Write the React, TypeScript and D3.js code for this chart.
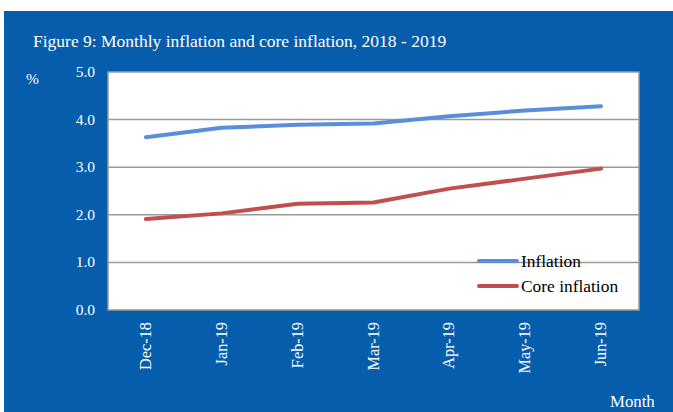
import React, { useRef, useEffect } from 'react';
import * as d3 from 'd3';

const months = ['Dec-18', 'Jan-19', 'Feb-19', 'Mar-19', 'Apr-19', 'May-19', 'Jun-19'];
const inflation = [3.63, 3.83, 3.89, 3.92, 4.07, 4.19, 4.28];
const coreInflation = [1.91, 2.03, 2.23, 2.26, 2.55, 2.76, 2.97];
const yTicks = [0, 1, 2, 3, 4, 5];

const series = [
  { name: 'Inflation', values: inflation, color: '#5A8FD8' },
  { name: 'Core inflation', values: coreInflation, color: '#C0504D' },
];

const W = 673;
const H = 412;
const BG = '#055DAB';
const FONT = '"Liberation Serif", "Times New Roman", serif';

const App: React.FC = () => {
  const svgRef = useRef<SVGSVGElement>(null);

  useEffect(() => {
    if (!svgRef.current) return;
    const svg = d3.select(svgRef.current);
    svg.selectAll('*').remove();

    const plot = { left: 108, top: 72, right: 639, bottom: 310 };

    // blue panel
    svg.append('rect')
      .attr('x', 4).attr('y', 11)
      .attr('width', W - 4).attr('height', H - 11)
      .attr('fill', BG);

    svg.append('text')
      .attr('x', 33).attr('y', 47)
      .attr('fill', '#fff')
      .attr('font-family', FONT)
      .attr('font-size', 17.5)
      .text('Figure 9: Monthly inflation and core inflation, 2018 - 2019');

    const x = d3.scaleBand<string>()
      .domain(months)
      .range([plot.left, plot.right]);

    const y = d3.scaleLinear()
      .domain([0, 5])
      .range([plot.bottom, plot.top]);

    // plot area
    svg.append('rect')
      .attr('x', plot.left).attr('y', plot.top)
      .attr('width', plot.right - plot.left)
      .attr('height', plot.bottom - plot.top)
      .attr('fill', '#fff')
      .attr('stroke', '#9a9a9a')
      .attr('stroke-width', 1.5);

    // gridlines
    svg.append('g')
      .selectAll('line')
      .data(yTicks.slice(1, -1))
      .enter()
      .append('line')
      .attr('x1', plot.left).attr('x2', plot.right)
      .attr('y1', d => y(d)).attr('y2', d => y(d))
      .attr('stroke', '#9a9a9a')
      .attr('stroke-width', 1.5);

    // y labels
    svg.append('g')
      .selectAll('text')
      .data(yTicks)
      .enter()
      .append('text')
      .attr('x', 95)
      .attr('y', d => y(d) + 5)
      .attr('text-anchor', 'end')
      .attr('fill', '#fff')
      .attr('font-family', FONT)
      .attr('font-size', 15.5)
      .text(d => d.toFixed(1));

    svg.append('text')
      .attr('x', 26).attr('y', 84)
      .attr('fill', '#fff')
      .attr('font-family', FONT)
      .attr('font-size', 15.5)
      .text('%');

    // x labels
    svg.append('g')
      .selectAll('text')
      .data(months)
      .enter()
      .append('text')
      .attr('transform', d => `translate(${(x(d) || 0) + x.bandwidth() / 2 + 5},${plot.bottom + 12}) rotate(-90)`)
      .attr('text-anchor', 'end')
      .attr('fill', '#fff')
      .attr('font-family', FONT)
      .attr('font-size', 16.3)
      .text(d => d);

    svg.append('text')
      .attr('x', 610).attr('y', 407)
      .attr('fill', '#fff')
      .attr('font-family', FONT)
      .attr('font-size', 16.8)
      .text('Month');

    // lines
    const line = d3.line<number>()
      .x((_, i) => (x(months[i]) || 0) + x.bandwidth() / 2)
      .y(d => y(d));

    series.forEach(s => {
      svg.append('path')
        .datum(s.values)
        .attr('d', line)
        .attr('fill', 'none')
        .attr('stroke', s.color)
        .attr('stroke-width', 4)
        .attr('stroke-linecap', 'round')
        .attr('stroke-linejoin', 'round');
    });

    // legend
    const legend = svg.append('g');
    series.forEach((s, i) => {
      const ly = 261 + i * 25;
      legend.append('line')
        .attr('x1', 479).attr('x2', 517)
        .attr('y1', ly).attr('y2', ly)
        .attr('stroke', s.color)
        .attr('stroke-width', 4)
        .attr('stroke-linecap', 'round');
      legend.append('text')
        .attr('x', 521).attr('y', ly + 6)
        .attr('fill', '#000')
        .attr('font-family', FONT)
        .attr('font-size', 17.4)
        .text(s.name);
    });
  }, []);

  return (
    <svg
      ref={svgRef}
      width={W}
      height={H}
      style={{ position: 'absolute', left: 0, top: 0, background: '#fff' }}
    />
  );
};

export default App;
